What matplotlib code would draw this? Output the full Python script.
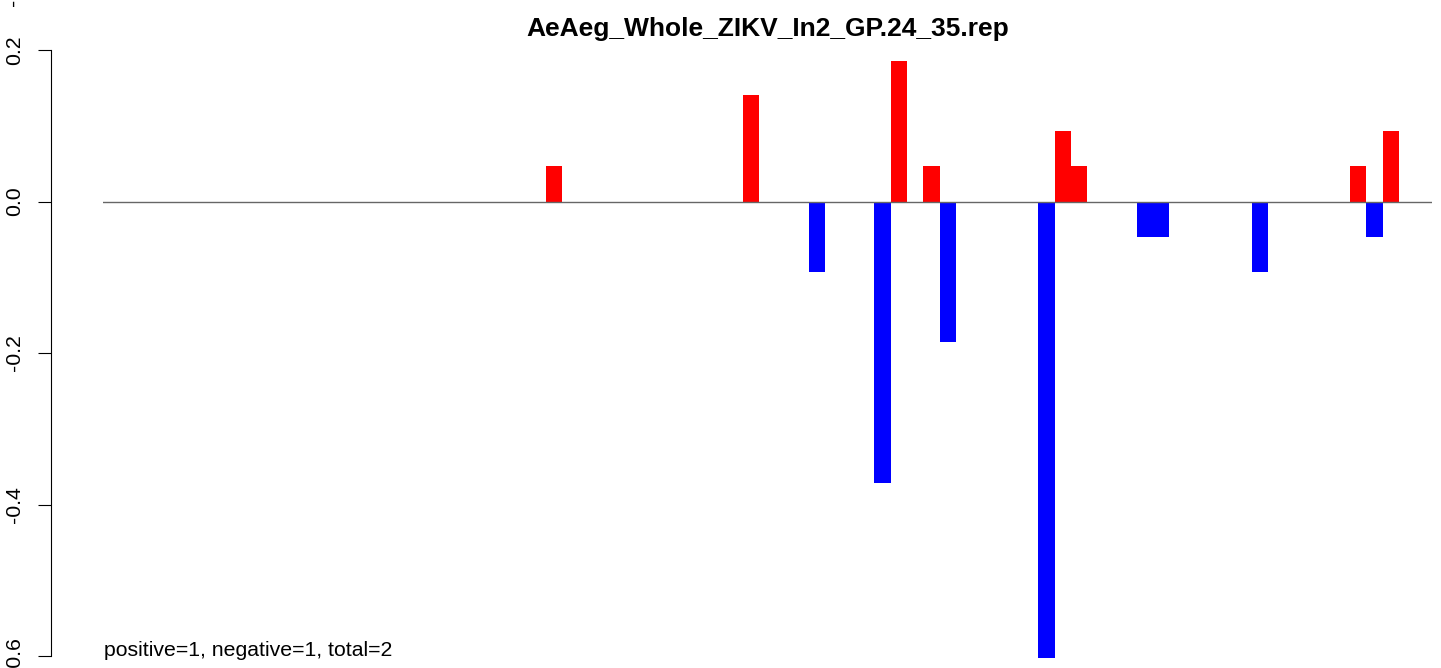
import matplotlib.pyplot as plt
import numpy as np

plt.rcParams['font.family'] = ['Liberation Sans', 'DejaVu Sans']

title = "AeAeg_Whole_ZIKV_In2_GP.24_35.rep"
note = "positive=1, negative=1, total=2"

n_bins = 76
# bins with a positive / negative score and their values
pos_bins = [24, 36, 45, 47, 55, 56, 73, 75]
pos_vals = [0.047, 0.140, 0.186, 0.047, 0.093, 0.047, 0.047, 0.093]
neg_bins = [40, 44, 48, 54, 60, 61, 67, 74]
neg_vals = [-0.093, -0.371, -0.186, -0.603, -0.047, -0.047, -0.093, -0.047]

yticks = [-0.6, -0.4, -0.2, 0.0, 0.2]

pos = np.zeros(n_bins)
pos[pos_bins] = pos_vals
neg = np.zeros(n_bins)
neg[neg_bins] = neg_vals
x = np.arange(n_bins)

W, H = 1441, 668
fig = plt.figure(figsize=(W / 100, H / 100), dpi=100)
ax = fig.add_axes([103 / W, 0, 1329 / W, 1])

ax.bar(x, pos, width=1.0, align='edge', color='red', linewidth=0)
ax.bar(x, neg, width=1.0, align='edge', color='blue', linewidth=0)
ax.axhline(0, color='#666666', lw=1.0, zorder=3)

ax.set_xlim(-3, 78)
ax.set_ylim(-0.6158, 0.266)

### axes look (R style)
for s in ['top', 'right', 'bottom']:
    ax.spines[s].set_visible(False)
ax.spines['left'].set_position(('outward', 37.4))
ax.spines['left'].set_bounds(-0.6, 0.2)
ax.spines['left'].set_linewidth(0.8)
ax.set_xticks([])
ax.set_yticks(yticks)
ax.set_yticklabels(['%.1f' % v for v in yticks], rotation=90, va='center', fontsize=15.3)
ax.tick_params(axis='y', length=9.4, width=0.8, pad=10)

fig.text(768 / W, 1 - 36 / H, title, ha='center', va='baseline', fontsize=19, fontweight='bold')
ax.text(-2.95, -0.6, note, ha='left', va='baseline', fontsize=15.3)
# clipped label from the panel above
fig.text(14 / W, 1 - 6 / H, "-0.6", rotation=90, ha='center', va='bottom', fontsize=15.3)

fig.savefig("out.png", dpi=100)
